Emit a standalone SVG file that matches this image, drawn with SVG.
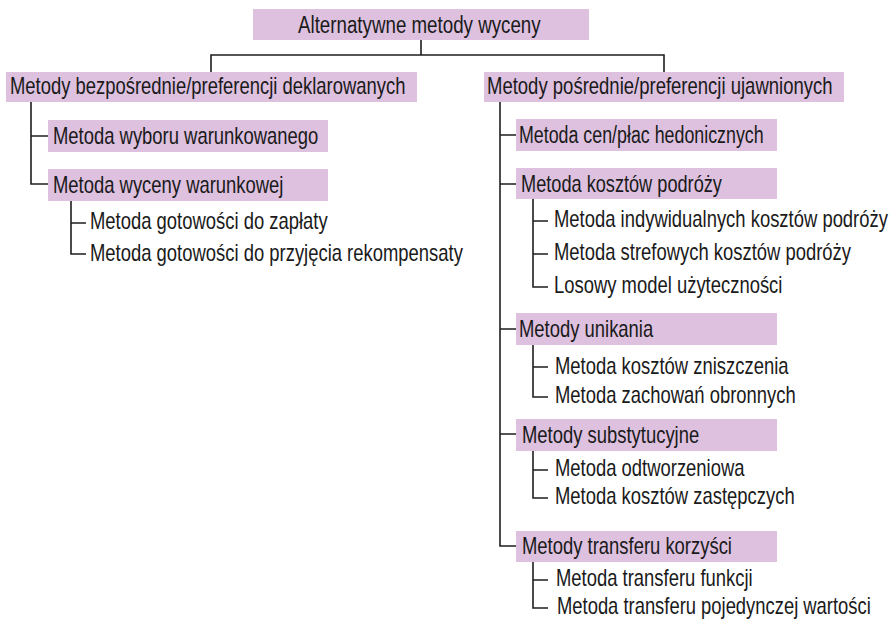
<svg xmlns="http://www.w3.org/2000/svg" width="894" height="625" viewBox="0 0 894 625">
  <style>
    .box { fill: #ddc1df; }
    .lbl { font-family: "Liberation Sans", Arial, sans-serif; font-size: 23px; fill: #1a1a1a; }
    .links path { fill: none; stroke: #1e1e1e; stroke-width: 1.6; }
  </style>
  <rect width="894" height="625" fill="#ffffff"/>

  <!-- connectors -->
  <g class="links">
    <path d="M421 40 V55 M211 72 V55 H664 V72"/>
    <path d="M31 102 V184 H48 M31 136 H48"/>
    <path d="M71 201 V254 H86 M71 223 H86"/>
    <path d="M500 102 V546 H516 M500 135 H516 M500 184 H516 M500 329 H516 M500 434 H516"/>
    <path d="M533 199 V287 H548 M533 221 H548 M533 254 H548"/>
    <path d="M533 345 V397 H548 M533 367 H548"/>
    <path d="M533 451 V498 H548 M533 470 H548"/>
    <path d="M533 562 V608 H548 M533 580 H548"/>
  </g>

  <!-- labels are set in a narrowed sans: scale(0.8, 1) after translating to the baseline start -->
  <g id="root">
    <rect class="box" x="253" y="9" width="336" height="31"/>
    <text class="lbl" transform="translate(298 33) scale(0.815 1)">Alternatywne metody wyceny</text>
  </g>

  <!-- stated preference branch -->
  <g id="direct">
    <rect class="box" x="6" y="72" width="411" height="30"/>
    <text class="lbl" transform="translate(10 94) scale(0.802 1)">Metody bezpośrednie/preferencji deklarowanych</text>
  </g>
  <g id="choice">
    <rect class="box" x="48" y="120" width="280" height="32"/>
    <text class="lbl" transform="translate(53 144) scale(0.802 1)">Metoda wyboru warunkowanego</text>
  </g>
  <g id="contingent">
    <rect class="box" x="48" y="169" width="280" height="32"/>
    <text class="lbl" transform="translate(53 193) scale(0.802 1)">Metoda wyceny warunkowej</text>
  </g>
  <g id="wtp">
    <text class="lbl" transform="translate(90 229) scale(0.802 1)">Metoda gotowości do zapłaty</text>
  </g>
  <g id="wta">
    <text class="lbl" transform="translate(90 261) scale(0.802 1)">Metoda gotowości do przyjęcia rekompensaty</text>
  </g>

  <!-- revealed preference branch -->
  <g id="indirect">
    <rect class="box" x="484" y="72" width="360" height="30"/>
    <text class="lbl" transform="translate(487 94) scale(0.805 1)">Metody pośrednie/preferencji ujawnionych</text>
  </g>
  <g id="hedonic">
    <rect class="box" x="516" y="119" width="261" height="32"/>
    <text class="lbl" transform="translate(519 143) scale(0.775 1)">Metoda cen/płac hedonicznych</text>
  </g>
  <g id="travel">
    <rect class="box" x="516" y="168" width="261" height="31"/>
    <text class="lbl" transform="translate(521 192) scale(0.79 1)">Metoda kosztów podróży</text>
  </g>
  <g id="travel-ind">
    <text class="lbl" transform="translate(554 227) scale(0.802 1)">Metoda indywidualnych kosztów podróży</text>
  </g>
  <g id="travel-zone">
    <text class="lbl" transform="translate(554 260) scale(0.802 1)">Metoda strefowych kosztów podróży</text>
  </g>
  <g id="rum">
    <text class="lbl" transform="translate(554 293) scale(0.802 1)">Losowy model użyteczności</text>
  </g>
  <g id="avoid">
    <rect class="box" x="516" y="313" width="261" height="32"/>
    <text class="lbl" transform="translate(519 337) scale(0.802 1)">Metody unikania</text>
  </g>
  <g id="damage">
    <text class="lbl" transform="translate(555 374) scale(0.802 1)">Metoda kosztów zniszczenia</text>
  </g>
  <g id="defensive">
    <text class="lbl" transform="translate(555 403) scale(0.802 1)">Metoda zachowań obronnych</text>
  </g>
  <g id="substitute">
    <rect class="box" x="516" y="419" width="261" height="32"/>
    <text class="lbl" transform="translate(522 443) scale(0.802 1)">Metody substytucyjne</text>
  </g>
  <g id="restoration">
    <text class="lbl" transform="translate(555 476) scale(0.802 1)">Metoda odtworzeniowa</text>
  </g>
  <g id="replacement">
    <text class="lbl" transform="translate(555 504) scale(0.802 1)">Metoda kosztów zastępczych</text>
  </g>
  <g id="transfer">
    <rect class="box" x="516" y="531" width="261" height="31"/>
    <text class="lbl" transform="translate(522 554) scale(0.802 1)">Metody transferu korzyści</text>
  </g>
  <g id="transfer-fn">
    <text class="lbl" transform="translate(556 586) scale(0.802 1)">Metoda transferu funkcji</text>
  </g>
  <g id="transfer-val">
    <text class="lbl" transform="translate(557 614) scale(0.8 1)">Metoda transferu pojedynczej wartości</text>
  </g>
</svg>
